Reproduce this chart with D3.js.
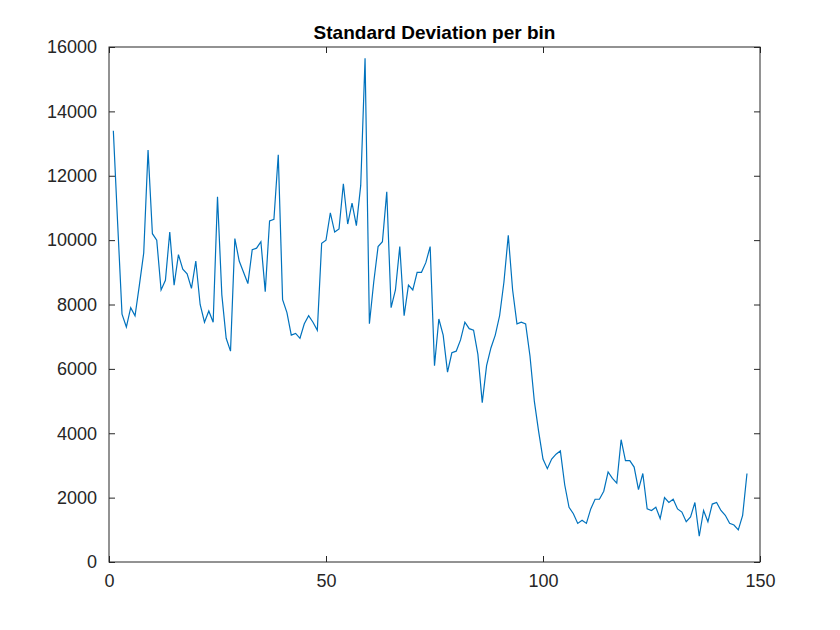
<!DOCTYPE html>
<html>
<head>
<meta charset="utf-8">
<script src="https://cdn.jsdelivr.net/npm/d3@7"></script>
<style>
  body { margin: 0; background: #fff; }
  text { font-family: "Liberation Sans", Arial, sans-serif; }
</style>
</head>
<body>
<div id="chart"></div>
<script>
var stdValues = [13400, 10500, 7700, 7300, 7900, 7650, 8600, 9600, 12800, 10200,
  10000, 8450, 8750, 10250, 8600, 9550, 9100, 8950, 8500, 9350,
  8000, 7450, 7800, 7450, 11350, 8300, 6950, 6550, 10050, 9350,
  9000, 8650, 9700, 9750, 9950, 8400, 10600, 10650, 12650, 8150,
  7750, 7050, 7100, 6950, 7400, 7650, 7450, 7200, 9900, 10000,
  10850, 10250, 10350, 11750, 10500, 11150, 10450, 11700, 15650, 7400,
  8700, 9800, 9950, 11500, 7900, 8450, 9800, 7650, 8600, 8450,
  9000, 9000, 9300, 9800, 6100, 7550, 7050, 5900, 6500, 6550,
  6900, 7450, 7250, 7200, 6450, 4950, 6100, 6650, 7050, 7650,
  8700, 10150, 8450, 7400, 7450, 7400, 6400, 5000, 4050, 3200,
  2900, 3200, 3350, 3450, 2400, 1700, 1500, 1200, 1300, 1200,
  1650, 1950, 1950, 2200, 2800, 2600, 2450, 3800, 3150, 3150,
  2950, 2250, 2750, 1650, 1600, 1700, 1350, 2000, 1850, 1950,
  1650, 1550, 1250, 1400, 1850, 800, 1600, 1250, 1800, 1850,
  1600, 1450, 1200, 1150, 1000, 1450, 2750];
var xTicks = [0, 50, 100, 150];
var yTicks = [0, 2000, 4000, 6000, 8000, 10000, 12000, 14000, 16000];

var svgWidth = 840, svgHeight = 630;
var margin = { top: 47, right: 80, bottom: 68, left: 109 };
var width = svgWidth - margin.left - margin.right;
var height = svgHeight - margin.top - margin.bottom;

var svg = d3.select("#chart").append("svg")
  .attr("width", svgWidth).attr("height", svgHeight);
var g = svg.append("g").attr("transform", `translate(${margin.left},${margin.top})`);

var x = d3.scaleLinear().domain([0, 150]).range([0, width]);
var y = d3.scaleLinear().domain([0, 16000]).range([height, 0]);

function styleAxis(sel) {
  sel.select(".domain").remove();
  sel.selectAll("line").attr("stroke", "#262626");
  sel.selectAll("text").attr("fill", "#262626").attr("font-size", "18px");
}

// bottom / top
g.append("g").attr("transform", `translate(0,${height})`)
  .call(d3.axisBottom(x).tickValues(xTicks).tickSizeInner(-6).tickSizeOuter(0).tickPadding(12))
  .call(styleAxis);
g.append("g")
  .call(d3.axisTop(x).tickValues(xTicks).tickSizeInner(-6).tickSizeOuter(0).tickFormat(""))
  .call(styleAxis);
// left / right
g.append("g")
  .call(d3.axisLeft(y).tickValues(yTicks).tickSizeInner(-6).tickSizeOuter(0).tickPadding(12).tickFormat(d3.format("d")))
  .call(styleAxis);
g.append("g").attr("transform", `translate(${width},0)`)
  .call(d3.axisRight(y).tickValues(yTicks).tickSizeInner(-6).tickSizeOuter(0).tickFormat(""))
  .call(styleAxis);

g.append("rect").attr("width", width).attr("height", height)
  .attr("fill", "none").attr("stroke", "#262626").attr("stroke-width", 1);

var line = d3.line().x((d, i) => x(i + 1)).y(d => y(d));
g.append("path").datum(stdValues)
  .attr("d", line).attr("fill", "none")
  .attr("stroke", "#0072BD").attr("stroke-width", 1.2);

svg.append("text").attr("x", margin.left + width / 2).attr("y", 39)
  .attr("text-anchor", "middle").attr("font-size", "19px").attr("font-weight", "bold")
  .attr("fill", "#000").text("Standard Deviation per bin");
</script>
</body>
</html>
